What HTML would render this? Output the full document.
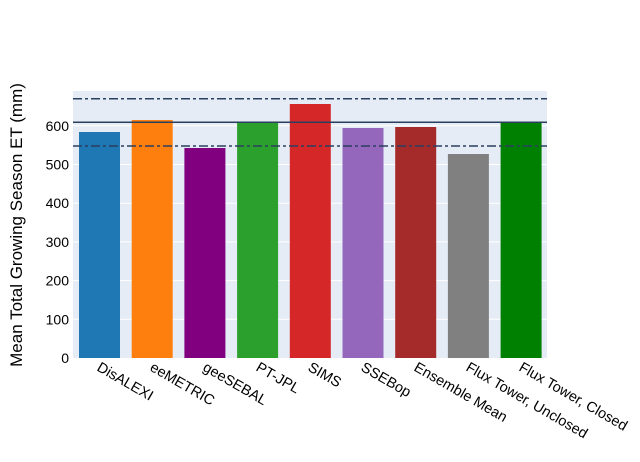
<!DOCTYPE html>
<html><head><style>body{margin:0;background:#fff;}svg{font-family:"Liberation Sans",sans-serif;}</style></head>
<body>
<svg width="640" height="457" xmlns="http://www.w3.org/2000/svg">
<rect x="73" y="91" width="474" height="267" fill="#e5ecf6"/>
<g stroke="#fff" stroke-width="1">
<line x1="73" x2="547" y1="319.3" y2="319.3"/><line x1="73" x2="547" y1="280.6" y2="280.6"/>
<line x1="73" x2="547" y1="241.9" y2="241.9"/><line x1="73" x2="547" y1="203.2" y2="203.2"/>
<line x1="73" x2="547" y1="164.5" y2="164.5"/><line x1="73" x2="547" y1="125.8" y2="125.8"/>
</g>
<g>
<rect x="79" y="132" width="41" height="226" fill="#1f77b4"/>
<rect x="131.7" y="120" width="41" height="238" fill="#ff7f0e"/>
<rect x="184.4" y="148" width="41" height="210" fill="#800080"/>
<rect x="237.1" y="122" width="41" height="236" fill="#2ca02c"/>
<rect x="289.8" y="104" width="41" height="254" fill="#d62728"/>
<rect x="342.5" y="128" width="41" height="230" fill="#9467bd"/>
<rect x="395.2" y="127" width="41" height="231" fill="#a52a2a"/>
<rect x="447.9" y="154" width="41" height="204" fill="#808080"/>
<rect x="500.6" y="122" width="41" height="236" fill="#008000"/>
</g>
<line x1="73" x2="547" y1="98.7" y2="98.7" stroke="#2a3f5f" stroke-width="1.5" stroke-dasharray="9,3,3,3"/>
<line x1="73" x2="547" y1="122.3" y2="122.3" stroke="#2a3f5f" stroke-width="1.5"/>
<line x1="73" x2="547" y1="146" y2="146" stroke="#2a3f5f" stroke-width="1.5" stroke-dasharray="9,3,3,3"/>
<g font-size="14" fill="#000" text-anchor="end">
<text x="69" y="363">0</text><text x="69" y="324.3">100</text><text x="69" y="285.6">200</text>
<text x="69" y="246.9">300</text><text x="69" y="208.2">400</text><text x="69" y="169.5">500</text><text x="69" y="130.8">600</text>
</g>
<text transform="translate(22,225) rotate(-90)" font-size="17" text-anchor="middle">Mean Total Growing Season ET (mm)</text>
<g font-size="14.5">
<text transform="translate(96,370) rotate(30)">DisALEXI</text>
<text transform="translate(149,370) rotate(30)">eeMETRIC</text>
<text transform="translate(202,370) rotate(30)">geeSEBAL</text>
<text transform="translate(255,370) rotate(30)">PT-JPL</text>
<text transform="translate(307,370) rotate(30)">SIMS</text>
<text transform="translate(360,370) rotate(30)">SSEBop</text>
<text transform="translate(413,370) rotate(30)">Ensemble Mean</text>
<text transform="translate(465,370) rotate(30)">Flux Tower, Unclosed</text>
<text transform="translate(518,370) rotate(30)">Flux Tower, Closed</text>
</g>
</svg>
</body></html>
